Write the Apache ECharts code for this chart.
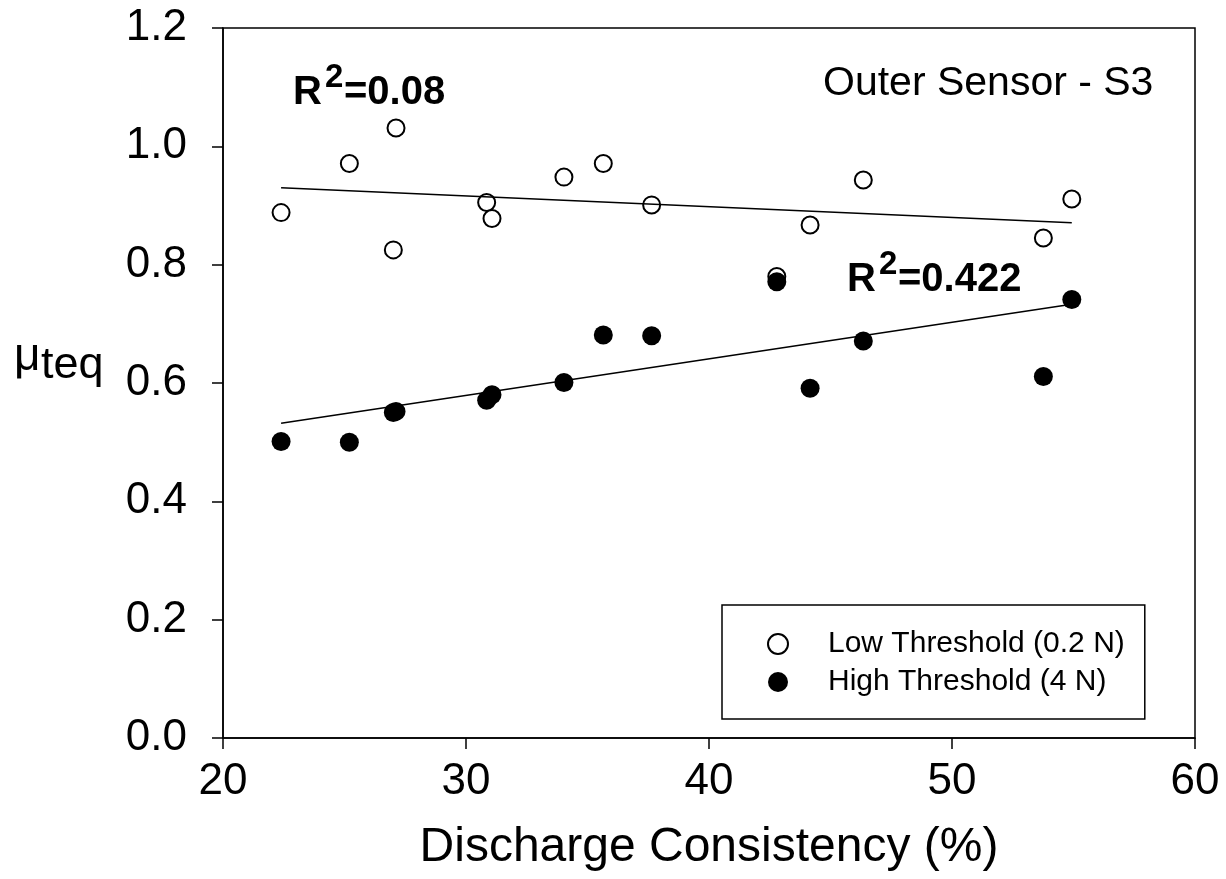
<!DOCTYPE html>
<html>
<head>
<meta charset="utf-8">
<script src="https://cdn.jsdelivr.net/npm/echarts@6/dist/echarts.min.js"></script>
<style>
html,body{margin:0;padding:0;background:#fff;}
#chart{width:1226px;height:879px;}
</style>
</head>
<body>
<div id="chart"></div>
<script>
// Discharge consistency (%) for each subject
const consistency = [22.39, 25.20, 27.12, 27.01, 30.85, 31.07, 34.03, 35.65, 37.64, 42.79, 44.16, 46.35, 53.76, 54.93];
// mu_teq values
const lowThreshold  = [0.888, 0.971, 1.031, 0.825, 0.905, 0.878, 0.948, 0.971, 0.901, 0.780, 0.867, 0.943, 0.845, 0.911];
const highThreshold = [0.501, 0.500, 0.552, 0.550, 0.571, 0.580, 0.601, 0.681, 0.680, 0.771, 0.591, 0.671, 0.611, 0.741];
// regression line endpoints
const fitLowX  = [22.39, 54.93];
const fitLowY  = [0.930, 0.871];
const fitHighX = [22.39, 54.93];
const fitHighY = [0.532, 0.733];
const seriesNames = ['Low Threshold (0.2 N)', 'High Threshold (4 N)'];
const r2Labels = ['0.08', '0.422'];

const pairs = (xs, ys) => xs.map((x, i) => [x, ys[i]]);
const FONT = '"Liberation Sans", Arial, sans-serif';

const chart = echarts.init(document.getElementById('chart'), null, {renderer: 'canvas'});

function supText(x, yMid, val) {
  return [
    {type: 'text', left: x, top: yMid - 21, style: {text: 'R', font: 'bold 40px ' + FONT, fill: '#000'}},
    {type: 'text', left: x + 32, top: yMid - 33, style: {text: '2', font: 'bold 33px ' + FONT, fill: '#000'}},
    {type: 'text', left: x + 51, top: yMid - 21, style: {text: '=' + val, font: 'bold 40px ' + FONT, fill: '#000'}}
  ];
}

chart.setOption({
  backgroundColor: '#fff',
  animation: false,
  textStyle: {fontFamily: FONT},
  grid: {left: 223, right: 31, top: 28, bottom: 141, show: true, borderColor: '#000', borderWidth: 1.5, backgroundColor: 'transparent'},
  xAxis: {
    type: 'value', min: 20, max: 60, interval: 10,
    axisLine: {show: true, onZero: false, lineStyle: {color: '#000', width: 1.5}},
    axisTick: {show: true, inside: false, length: 11, lineStyle: {color: '#000', width: 1.5}},
    axisLabel: {color: '#000', fontSize: 44, fontFamily: FONT, margin: 22},
    splitLine: {show: false},
    name: 'Discharge Consistency (%)', nameLocation: 'middle', nameGap: 86,
    nameTextStyle: {color: '#000', fontSize: 48, fontFamily: FONT}
  },
  yAxis: {
    type: 'value', min: 0, max: 1.2, interval: 0.2,
    axisLine: {show: true, onZero: false, lineStyle: {color: '#000', width: 1.5}},
    axisTick: {show: true, inside: false, length: 11, lineStyle: {color: '#000', width: 1.5}},
    axisLabel: {color: '#000', fontSize: 44, fontFamily: FONT, margin: 36, formatter: v => v.toFixed(1)},
    splitLine: {show: false}
  },
  legend: {
    orient: 'vertical', left: 722, top: 605,
    data: seriesNames,
    itemWidth: 90, itemHeight: 20, itemGap: 8,
    padding: [24, 20, 22, 45],
    borderColor: '#000', borderWidth: 1.5, backgroundColor: '#fff',
    textStyle: {color: '#000', fontSize: 30, fontFamily: FONT},
    selectedMode: false
  },
  series: [
    {
      name: seriesNames[0], type: 'scatter', z: 2,
      data: pairs(consistency, lowThreshold),
      symbol: 'circle', symbolSize: 17,
      itemStyle: {color: '#fff', borderColor: '#000', borderWidth: 2, opacity: 1}
    },
    {
      name: seriesNames[1], type: 'scatter', z: 3,
      data: pairs(consistency, highThreshold),
      symbol: 'circle', symbolSize: 19,
      itemStyle: {color: '#000', borderColor: '#000', borderWidth: 0, opacity: 1}
    },
    {
      name: 'fitLow', type: 'line', z: 4, data: pairs(fitLowX, fitLowY),
      symbol: 'none', lineStyle: {color: '#000', width: 1.5}, silent: true
    },
    {
      name: 'fitHigh', type: 'line', z: 4, data: pairs(fitHighX, fitHighY),
      symbol: 'none', lineStyle: {color: '#000', width: 1.5}, silent: true
    }
  ],
  graphic: [
    {type: 'text', left: 823, top: 63, style: {text: 'Outer Sensor - S3', font: '41px ' + FONT, fill: '#000'}},
    {type: 'text', left: 14, top: 334, style: {text: 'μ', font: '46px ' + FONT, fill: '#000'}},
    {type: 'text', left: 41, top: 343, style: {text: 'teq', font: '45px ' + FONT, fill: '#000'}}
  ].concat(supText(293, 94, r2Labels[0])).concat(supText(847, 281, r2Labels[1]))
});
</script>
</body>
</html>
